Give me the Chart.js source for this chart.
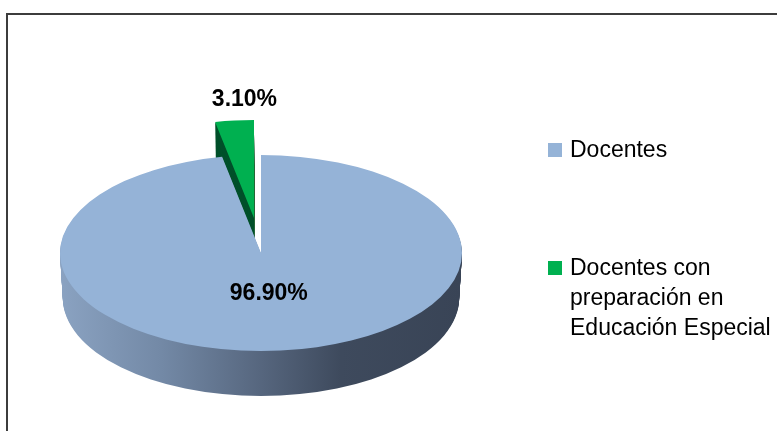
<!DOCTYPE html>
<html>
<head>
<meta charset="utf-8">
<script src="https://cdn.jsdelivr.net/npm/chart.js@4/dist/chart.umd.min.js"></script>
<style>
  html, body { margin: 0; padding: 0; background: #fff; }
  #wrap { position: relative; width: 777px; height: 431px; overflow: hidden; }
  #frame { position: absolute; left: 6px; top: 13px; width: 900px; height: 500px;
           border-top: 2px solid #3C3C3C; border-left: 2px solid #3C3C3C; }
  #c { position: absolute; left: 0; top: 0; }
  #legend { position: absolute; left: 548px; top: 0; font: 23px "Liberation Sans", Arial, sans-serif;
            color: #000; line-height: 30px; }
  .item { position: absolute; left: 0; white-space: nowrap; }
  .sw { position: absolute; left: 0; width: 14px; height: 14px; }
  .txt { position: absolute; left: 22px; top: 0; }
</style>
</head>
<body>
<div id="wrap">
  <div id="frame"></div>
  <canvas id="c" width="777" height="431"></canvas>
  <div id="legend"></div>
</div>
<script>
// Teaching staff split
const categories = ['Docentes', 'Docentes con preparación en Educación Especial'];
const legendLines = [['Docentes'], ['Docentes con', 'preparación en', 'Educación Especial']];
const shares = [96.9, 3.1];
const sliceColors = ['#95B3D7', '#00B050'];

// 3D look of the pie
const RADIUS = 201;          // pie radius before tilting
const SCREEN_CY = 253;       // vertical centre of the tilted top face
const TILT = 98 / 201;       // vertical squash of the top face
const DEPTH = 45;            // thickness of the pie wall
const TAPER = 0.014;         // slight narrowing towards the bottom
const explodeBy = [0, 72];   // pull-out distance per slice
const wallColors = [null, '#00502A'];

function pct(v) { return v.toFixed(2) + '%'; }

const pie3d = {
  id: 'pie3d',
  beforeDatasetsDraw(chart) {
    const ctx = chart.ctx;
    const arcs = chart.getDatasetMeta(0).data;
    const cx = arcs[0].x, cyC = arcs[0].y;

    const wallGrad = ctx.createLinearGradient(cx - RADIUS, 0, cx + RADIUS, 0);
    wallGrad.addColorStop(0, '#8AA2C1');
    wallGrad.addColorStop(0.25, '#7389A6');
    wallGrad.addColorStop(0.5, '#56667E');
    wallGrad.addColorStop(0.7, '#3E4A5D');
    wallGrad.addColorStop(1, '#394456');

    const tilt = () => { ctx.translate(0, SCREEN_CY); ctx.scale(1, TILT); ctx.translate(0, -cyC); };
    const shiftOf = i => {
      const a = (arcs[i].startAngle + arcs[i].endAngle) / 2;
      return [Math.cos(a) * explodeBy[i], Math.sin(a) * explodeBy[i]];
    };
    const slicePath = el => {
      ctx.beginPath();
      ctx.moveTo(el.x, el.y);
      ctx.arc(el.x, el.y, el.outerRadius, el.startAngle, el.endAngle);
      ctx.closePath();
    };

    // back slice first, then the large front slice
    [1, 0].forEach(i => {
      const el = arcs[i];
      const [dx, dy] = shiftOf(i);
      for (let k = DEPTH; k >= 1; k--) {
        const s = 1 - TAPER * k / DEPTH;
        ctx.save();
        ctx.translate(0, k);
        ctx.translate(cx, 0); ctx.scale(s, 1); ctx.translate(-cx, 0);
        tilt();
        ctx.translate(dx, dy);
        slicePath(el);
        ctx.fillStyle = wallColors[i] || wallGrad;
        ctx.fill();
        ctx.restore();
      }
      ctx.save();
      tilt();
      ctx.translate(dx, dy);
      el.draw(ctx);
      ctx.restore();
    });
    return false;
  },
  afterDraw(chart) {
    const ctx = chart.ctx;
    const arcs = chart.getDatasetMeta(0).data;
    const cyC = arcs[0].y;
    const toScreen = (x, y) => [x, SCREEN_CY + (y - cyC) * TILT];
    ctx.save();
    ctx.font = 'bold 23px "Liberation Sans", Arial, sans-serif';
    ctx.fillStyle = '#000';
    ctx.textAlign = 'center';
    ctx.textBaseline = 'alphabetic';
    arcs.forEach((el, i) => {
      const a = (el.startAngle + el.endAngle) / 2;
      const ux = Math.cos(a), uy = Math.sin(a);
      let x, y;
      if (explodeBy[i] > 0) {
        // outside label, above the pulled-out slice
        const r = el.outerRadius + explodeBy[i];
        [x, y] = toScreen(el.x + ux * r, el.y + uy * r);
        x += 10; y -= 15;
      } else {
        const r = el.outerRadius * 0.4;
        [x, y] = toScreen(el.x + ux * r, el.y + uy * r);
        y += 8;
      }
      ctx.fillText(pct(shares[i]), x, y);
    });
    ctx.restore();
  }
};

new Chart(document.getElementById('c'), {
  type: 'pie',
  data: {
    labels: categories,
    datasets: [{
      data: shares,
      backgroundColor: sliceColors,
      borderWidth: 0
    }]
  },
  options: {
    responsive: false,
    animation: false,
    devicePixelRatio: 1,
    radius: RADIUS,
    rotation: 0,
    layout: { padding: { left: 0, right: 255, top: 0, bottom: 0 } },
    plugins: {
      legend: { display: false },
      tooltip: { enabled: false }
    },
    events: []
  },
  plugins: [pie3d]
});

// legend on the right
const legendTops = [134, 252];
const legend = document.getElementById('legend');
categories.forEach((name, i) => {
  const item = document.createElement('div');
  item.className = 'item';
  item.style.top = legendTops[i] + 'px';
  const sw = document.createElement('div');
  sw.className = 'sw';
  sw.style.background = sliceColors[i];
  sw.style.top = '9px';
  const txt = document.createElement('div');
  txt.className = 'txt';
  txt.innerHTML = legendLines[i].join('<br>');
  item.appendChild(sw);
  item.appendChild(txt);
  legend.appendChild(item);
});
</script>
</body>
</html>
